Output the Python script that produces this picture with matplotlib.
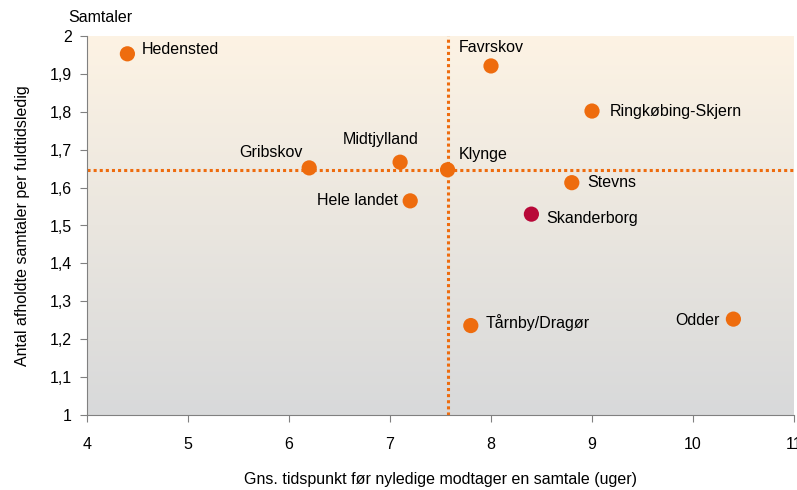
import numpy as np
import matplotlib.pyplot as plt
from matplotlib.colors import LinearSegmentedColormap
from matplotlib.ticker import FuncFormatter

plt.rcParams['font.family'] = ['Liberation Sans', 'DejaVu Sans']
plt.rcParams['font.size'] = 11.5

names = ["Hedensted", "Favrskov", "Ringkøbing-Skjern", "Gribskov", "Midtjylland",
         "Klynge", "Hele landet", "Stevns", "Skanderborg", "Tårnby/Dragør", "Odder"]
weeks = [4.4, 8.0, 9.0, 6.2, 7.1, 7.57, 7.2, 8.8, 8.4, 7.8, 10.4]
talks = [1.953, 1.921, 1.802, 1.652, 1.667, 1.647, 1.565, 1.613, 1.530, 1.236, 1.253]
highlight = "Skanderborg"
ref_name = "Klynge"

# label offsets in points, and alignment
label_pos = {
    "Hedensted": (10, 3, "left"),
    "Favrskov": (-23, 13, "left"),
    "Ringkøbing-Skjern": (13, 0, "left"),
    "Gribskov": (-5, 11, "right"),
    "Midtjylland": (13, 16, "right"),
    "Klynge": (8, 11, "left"),
    "Hele landet": (-9, 0, "right"),
    "Stevns": (11, 0, "left"),
    "Skanderborg": (11, -3, "left"),
    "Tårnby/Dragør": (11, 2, "left"),
    "Odder": (-10, -1, "right"),
}

orange = "#EE6C0E"
crimson = "#B80838"

fig = plt.figure(figsize=(7.97, 4.90), dpi=100)
ax = fig.add_axes([87 / 797, 75 / 490, 707 / 797, 379 / 490])

ax.set_xlim(4, 11)
ax.set_ylim(1, 2)

# background gradient: cream at top, grey at bottom
cmap = LinearSegmentedColormap.from_list("bg", ["#D8D9DA", "#EAE6DF", "#FDF3E4"])
grad = np.linspace(0, 1, 256).reshape(-1, 1)
ax.imshow(grad, extent=[4, 11, 1, 2], origin="lower", aspect="auto", cmap=cmap, zorder=0)

ix = names.index(ref_name)
ax.axvline(weeks[ix], color=orange, lw=2.2, ls=(0, (1, 1)), zorder=1)
ax.axhline(talks[ix], color=orange, lw=2.2, ls=(0, (1, 1)), zorder=1)

colors = [crimson if n == highlight else orange for n in names]
ax.scatter(weeks, talks, s=120, c=colors, edgecolors="none", zorder=3)

for n, x, y in zip(names, weeks, talks):
    dx, dy, ha = label_pos[n]
    ax.annotate(n, (x, y), xytext=(dx, dy), textcoords="offset points",
                ha=ha, va="center", fontsize=11.5, zorder=4)

ax.set_xticks(range(4, 12))
ax.set_yticks(np.round(np.arange(1, 2.01, 0.1), 1))
ax.yaxis.set_major_formatter(FuncFormatter(lambda v, p: f"{v:g}".replace(".", ",")))

for s in ["top", "right"]:
    ax.spines[s].set_visible(False)
for s in ["left", "bottom"]:
    ax.spines[s].set_color("#808080")
ax.tick_params(color="#808080", length=5, labelsize=11.5, pad=6)
ax.tick_params(axis="x", pad=11)

ax.set_xlabel("Gns. tidspunkt før nyledige modtager en samtale (uger)", fontsize=11.5, labelpad=14)
ax.set_ylabel("Antal afholdte samtaler per fuldtidsledig", fontsize=11.5, labelpad=14)
fig.text(68 / 797, 1 - 17 / 490, "Samtaler", fontsize=11.5, ha="left", va="center")

fig.savefig("out.png", dpi=100)
